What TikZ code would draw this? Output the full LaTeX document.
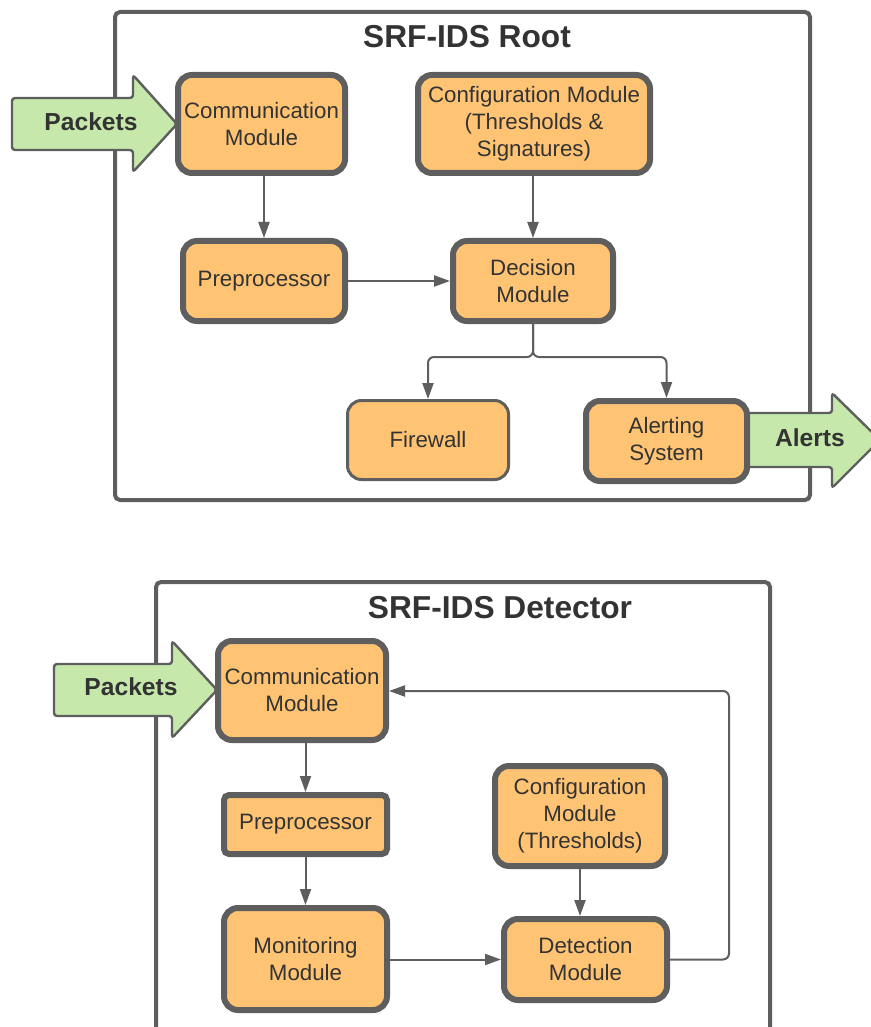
\documentclass[tikz,border=0pt]{standalone}
\usepackage{fontspec}
\setmainfont{Liberation Sans}
\usetikzlibrary{arrows.meta}
\definecolor{boxfill}{HTML}{FFC374}
\definecolor{edge}{HTML}{5E5E5E}
\definecolor{greenfill}{HTML}{C6E8AB}
\definecolor{txt}{HTML}{333333}
\tikzset{
 modbox/.style={draw=edge, fill=boxfill, line width=3pt, rounded corners=7pt, inner sep=0pt, align=center, text=txt, font=\fontsize{11.15}{13.5}\selectfont},
 thinbox/.style={modbox, line width=1.5pt},
 container/.style={draw=edge, line width=2pt, rounded corners=2.5pt},
 conn/.style={draw=edge, line width=1pt, rounded corners=3pt, -{Triangle[length=8pt,width=5.5pt]}},
 bigarrow/.style={draw=edge, fill=greenfill, line width=1.2pt, rounded corners=1.5pt},
 arrowlabel/.style={font=\bfseries\fontsize{12.3}{14}\selectfont, text=txt},
 titletext/.style={font=\bfseries\fontsize{15.85}{18}\selectfont, text=txt},
}
\begin{document}
\begin{tikzpicture}[x=0.5pt,y=-0.5pt]
\clip (0,0) rectangle (871,1027);
\fill[white] (0,0) rectangle (871,1027);

% ---------- Root ----------
\draw[container] (115,12) rectangle (810,500);
\node[titletext] (roottitle) at (467,37) {SRF-IDS Root};

\draw[bigarrow] (12,98) -- (133,98) -- (133,75) -- (177,124) -- (133,172) -- (133,150) -- (12,150) -- cycle;
\node[arrowlabel] (packets1) at (91,122) {Packets};
\draw[bigarrow] (740,413) -- (832,413) -- (832,393) -- (880,440) -- (832,488) -- (832,467) -- (740,467) -- cycle;
\node[arrowlabel] (alerts) at (810,438) {Alerts};

\node[modbox, minimum width=83.5pt, minimum height=49pt] (comm1) at (261.5,124) {Communication\\Module};
\node[modbox, minimum width=116pt, minimum height=49pt] (conf1) at (534,124) {Configuration Module\\(Thresholds \&\\Signatures)};
\node[modbox, minimum width=81pt, minimum height=40pt] (pre1) at (264,281) {Preprocessor};
\node[modbox, minimum width=80pt, minimum height=40pt] (dec1) at (533,281) {Decision\\Module};
\node[thinbox, minimum width=80.5pt, minimum height=39.5pt] (fw) at (428,440) {Firewall};
\node[modbox, minimum width=80.5pt, minimum height=40pt] (alert) at (666.5,441) {Alerting\\System};

\draw[conn] (comm1.south -| pre1.north) -- (pre1.north);
\draw[conn] (conf1.south -| dec1.north) -- (dec1.north);
\draw[conn] (pre1.east) -- (pre1.east -| dec1.west);
\coordinate (split) at (533,357);
\draw[conn] (dec1.south) -- (split) -| (fw.north);
\draw[conn] (dec1.south) -- (split) -| (alert.north);

% ---------- Detector ----------
\draw[container] (156,582) rectangle (770,1060);
\node[titletext] (dettitle) at (500,608) {SRF-IDS Detector};

\draw[bigarrow] (54,664) -- (172,664) -- (172,641) -- (217,690) -- (172,738) -- (172,716) -- (54,716) -- cycle;
\node[arrowlabel] (packets2) at (131,687) {Packets};

\node[modbox, minimum width=84pt, minimum height=49.5pt] (comm2) at (302,690.5) {Communication\\Module};
\node[modbox, rounded corners=2.5pt, minimum width=81.5pt, minimum height=29.5pt] (pre2) at (305.5,824.5) {Preprocessor};
\node[modbox, minimum width=81.5pt, minimum height=51pt] (mon) at (305.5,959) {Monitoring\\Module};
\node[modbox, minimum width=85pt, minimum height=50pt] (conf2) at (580,816) {Configuration\\Module\\(Thresholds)};
\node[modbox, minimum width=81.5pt, minimum height=40.5pt] (det) at (585.5,959.5) {Detection\\Module};

\draw[conn] (comm2.south -| pre2.north) -- (pre2.north);
\draw[conn] (pre2.south) -- (mon.north);
\draw[conn] (conf2.south) -- (conf2.south |- det.north);
\draw[conn] (mon.east |- det.west) -- (det.west);
\coordinate (fbc) at (729,691);
\draw[conn] (det.east) -| (fbc) -- (fbc -| comm2.east);
\end{tikzpicture}
\end{document}
